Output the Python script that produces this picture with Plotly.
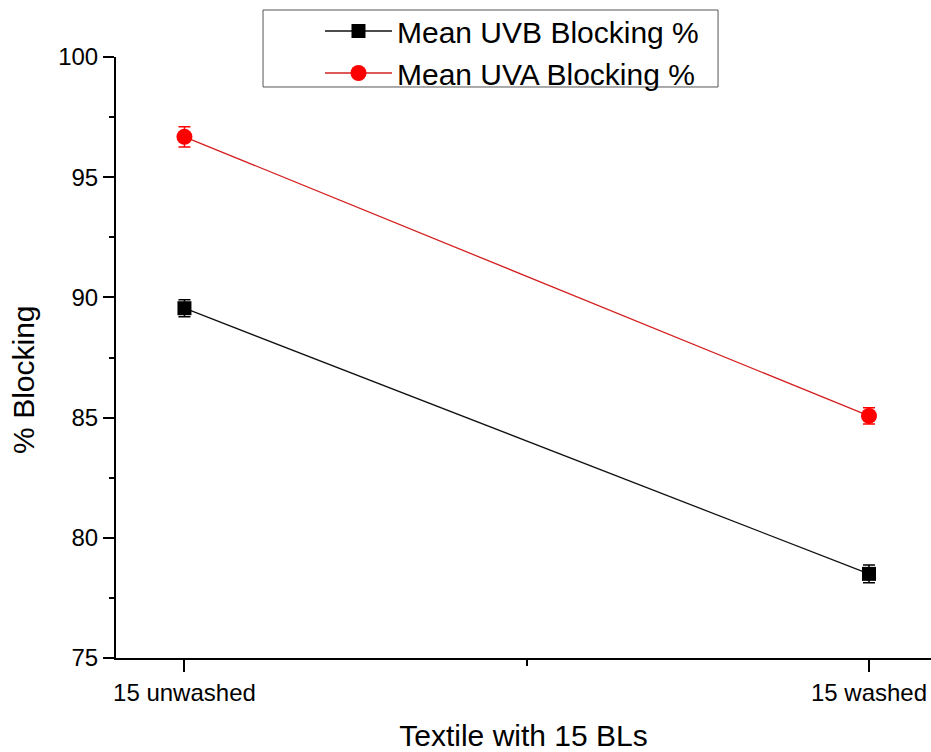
import plotly.graph_objects as go

# Textile conditions (x categories) and blocking results
categories = ["15 unwashed", "15 washed"]
x_pos = [1, 2]

uvb_mean = [89.55, 78.5]
uvb_err = [0.35, 0.37]

uva_mean = [96.68, 85.07]
uva_err = [0.42, 0.34]

FONT = "Arial, Liberation Sans, sans-serif"

fig = go.Figure()

fig.add_trace(go.Scatter(
    x=x_pos, y=uvb_mean, name="Mean UVB Blocking %",
    mode="lines+markers",
    line=dict(color="#111111", width=1.3),
    marker=dict(symbol="square", size=14, color="black"),
    error_y=dict(type="data", array=uvb_err, visible=True,
                 color="black", thickness=1.5, width=6),
))

fig.add_trace(go.Scatter(
    x=x_pos, y=uva_mean, name="Mean UVA Blocking %",
    mode="lines+markers",
    line=dict(color="#d42020", width=1.3),
    marker=dict(symbol="circle", size=16, color="#ff0000"),
    error_y=dict(type="data", array=uva_err, visible=True,
                 color="#ff0000", thickness=1.5, width=6),
))

fig.update_layout(
    width=931, height=752,
    margin=dict(l=116, r=0, t=57, b=94),
    paper_bgcolor="white", plot_bgcolor="white",
    font=dict(family=FONT, color="black", size=24),
    showlegend=True,
    legend=dict(
        x=0.2503, y=1.0865, xanchor="left", yanchor="top",
        bgcolor="rgba(0,0,0,0)", borderwidth=0,
        font=dict(family=FONT, size=30, color="black"),
        itemwidth=67, tracegroupgap=0,
    ),
    # frame around the legend entries
    shapes=[dict(
        type="rect", xref="paper", yref="paper",
        x0=0.1804, x1=0.7387, y0=0.9501, y1=1.0782,
        line=dict(color="#555555", width=1), fillcolor="white", layer="below",
    )],
    xaxis=dict(
        range=[0.9, 2.0906],
        tickmode="array", tickvals=x_pos, ticktext=categories,
        ticks="outside", ticklen=12, tickwidth=2, tickcolor="black",
        showline=True, linecolor="black", linewidth=2,
        showgrid=False, zeroline=False,
        tickfont=dict(family=FONT, size=24),
        minor=dict(dtick=0.5, tick0=1, ticks="outside", ticklen=6,
                   tickwidth=2, tickcolor="black", showgrid=False),
        title=dict(text="Textile with 15 BLs", font=dict(family=FONT, size=30),
                   standoff=20),
    ),
    yaxis=dict(
        range=[75, 100], dtick=5, tick0=75,
        ticks="outside", ticklen=11, tickwidth=2, tickcolor="black",
        showline=True, linecolor="black", linewidth=2,
        showgrid=False, zeroline=False,
        tickfont=dict(family=FONT, size=24),
        minor=dict(dtick=2.5, tick0=75, ticks="outside", ticklen=5,
                   tickwidth=2, tickcolor="black", showgrid=False),
    ),
    annotations=[dict(
        text="% Blocking", textangle=-90,
        xref="paper", yref="paper", x=-0.113, y=0.4626,
        xanchor="center", yanchor="middle", showarrow=False,
        font=dict(family=FONT, size=30, color="black"),
    )],
)

fig.write_html("out.html")
